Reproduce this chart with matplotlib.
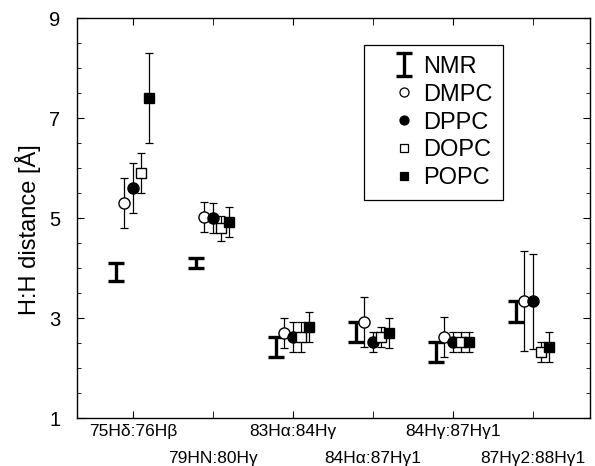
import matplotlib
matplotlib.use("Agg")
import matplotlib.pyplot as plt
import numpy as np

categories = ['75Hδ:76Hβ', '79HN:80Hγ', '83Hα:84Hγ', '84Hα:87Hγ1', '84Hγ:87Hγ1', '87Hγ2:88Hγ1']
nmr_low = [3.75, 4.00, 2.22, 2.52, 2.12, 2.92]
nmr_high = [4.10, 4.20, 2.62, 2.92, 2.52, 3.34]
dmpc = [5.30, 5.02, 2.70, 2.92, 2.62, 3.34]
dmpc_err = [0.50, 0.30, 0.30, 0.50, 0.40, 1.00]
dppc = [5.60, 5.00, 2.62, 2.52, 2.52, 3.34]
dppc_err = [0.50, 0.30, 0.30, 0.20, 0.20, 0.95]
dopc = [5.90, 4.80, 2.62, 2.62, 2.52, 2.32]
dopc_err = [0.40, 0.25, 0.30, 0.20, 0.20, 0.20]
popc = [7.40, 4.92, 2.82, 2.70, 2.52, 2.42]
popc_err = [0.90, 0.30, 0.30, 0.30, 0.20, 0.30]

plt.rcParams['font.family'] = ['Liberation Sans', 'DejaVu Sans']

fig = plt.figure(figsize=(5.95, 4.66), dpi=100)
ax = fig.add_axes([0.1294, 0.103, 0.862, 0.858])

x = np.arange(1, len(categories) + 1)
lo = np.array(nmr_low); hi = np.array(nmr_high)
mid = (lo + hi) / 2
h_nmr = ax.errorbar(x - 0.21, mid, yerr=(hi - lo) / 2, fmt='none', ecolor='black',
                    elinewidth=2.4, capsize=5.5, capthick=2.4, label='NMR')

series = [
    (dmpc, dmpc_err, 'o', 'white', 'DMPC', -0.11),
    (dppc, dppc_err, 'o', 'black', 'DPPC', 0.0),
    (dopc, dopc_err, 's', 'white', 'DOPC', 0.10),
    (popc, popc_err, 's', 'black', 'POPC', 0.20),
]
handles = [h_nmr]
for vals, err, m, fc, lab, off in series:
    ax.errorbar(x + off, vals, yerr=err, fmt='none', ecolor='black',
                elinewidth=0.9, capsize=3, capthick=0.9)
    ms = 8 if m == 'o' else 7
    ax.plot(x + off, vals, linestyle='none', marker=m, markersize=ms,
            markerfacecolor=fc, markeredgecolor='black', markeredgewidth=1.0, zorder=5)
    handles.append(plt.Line2D([], [], linestyle='none', marker=m, markersize=6.5 if m == 'o' else 6,
                              markerfacecolor=fc, markeredgecolor='black', markeredgewidth=0.9,
                              label=lab))

ax.set_xlim(0.3, 6.71)
ax.set_ylim(1, 9)
ax.set_yticks([1, 3, 5, 7, 9])
ax.set_yticks(np.arange(1, 9.01, 0.5), minor=True)
ax.set_xticks(x[0::2])
ax.set_xticklabels(categories[0::2], fontsize=12.5)
ax.set_xticks(x[1::2], minor=True)
ax.set_xticklabels(categories[1::2], minor=True, fontsize=12.5)
ax.tick_params(axis='both', which='both', direction='in', top=True, right=True)
ax.tick_params(axis='y', which='major', length=5, labelsize=14.5, pad=12)
ax.tick_params(axis='y', which='minor', length=3)
ax.tick_params(axis='x', which='major', length=5, pad=4)
ax.tick_params(axis='x', which='minor', length=5, pad=24)
ax.set_ylabel('H:H distance [Å]', fontsize=17)
ax.yaxis.set_label_coords(-0.07, 0.47)
for s in ax.spines.values():
    s.set_linewidth(1.0)

leg = ax.legend(handles=handles, labels=['NMR', 'DMPC', 'DPPC', 'DOPC', 'POPC'],
                loc='upper left', bbox_to_anchor=(0.559, 0.9325), fontsize=17,
                frameon=True, fancybox=False, edgecolor='black', framealpha=1,
                handlelength=2.5, handletextpad=-0.45, labelspacing=0.25,
                borderpad=0.45, borderaxespad=0.0)
leg.get_frame().set_linewidth(0.9)

fig.savefig('out.png', dpi=100)
